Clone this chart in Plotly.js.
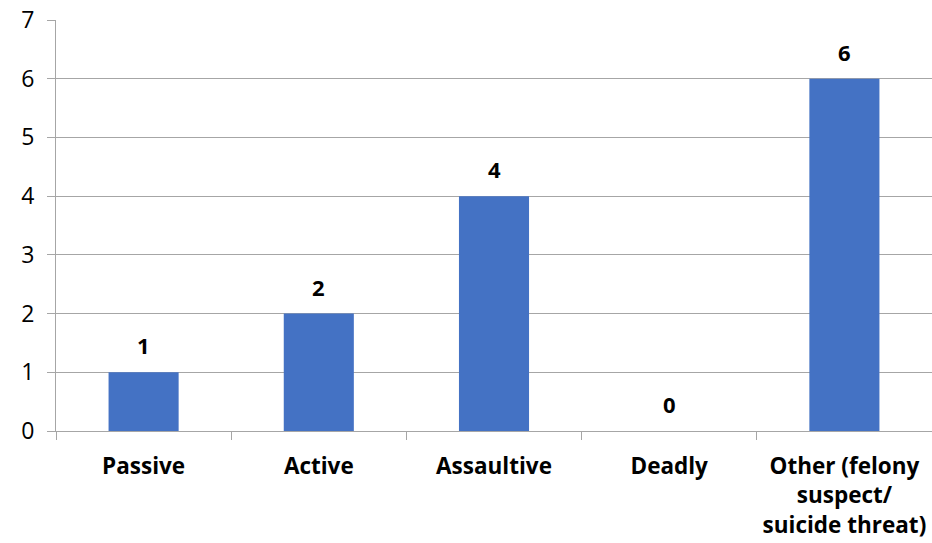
<!DOCTYPE html>
<html>
<head>
<meta charset="utf-8">
<script src="https://cdn.plot.ly/plotly-3.0.1.min.js"></script>
<style>html,body{margin:0;padding:0;background:#fff}#chart{width:932px;height:543px}</style>
</head>
<body>
<div id="chart"></div>
<script>
const categories = ["Passive", "Active", "Assaultive", "Deadly", "Other (felony<br>suspect/<br>suicide threat)"];
const counts = [1, 2, 4, 0, 6];
const yTicks = [0, 1, 2, 3, 4, 5, 6, 7];

const FONT = "'Open Sans', Lato, 'Liberation Sans', sans-serif";

const trace = {
  type: "bar",
  x: categories,
  y: counts,
  marker: {color: "#4472C4"},
  hoverinfo: "skip"
};

const annotations = categories.map((c, i) => ({
  x: c, y: counts[i], text: "<b>" + counts[i] + "</b>",
  showarrow: false, yshift: 27, xanchor: "center", yanchor: "middle",
  font: {family: FONT, size: 22, color: "#000"}
}));

const layout = {
  width: 932, height: 543,
  margin: {l: 56, r: 0, t: 20, b: 112},
  paper_bgcolor: "#fff", plot_bgcolor: "#fff",
  bargap: 0.6,
  showlegend: false,
  font: {family: FONT, color: "#000"},
  xaxis: {
    type: "category",
    tickson: "boundaries",
    tickangle: 0,
    ticks: "outside", ticklen: 8, tickcolor: "#A6A6A6", tickwidth: 1,
    showline: true, linecolor: "#A6A6A6", linewidth: 1,
    showgrid: false, zeroline: false,
    tickfont: {family: FONT, size: 22.5, color: "#000", weight: "bold"},
    ticklabelstandoff: 15
  },
  yaxis: {
    range: [0, 7],
    tickvals: yTicks,
    ticks: "outside", ticklen: 8, tickcolor: "#A6A6A6", tickwidth: 1,
    showline: true, linecolor: "#A6A6A6", linewidth: 1,
    showgrid: true, gridcolor: "#A6A6A6", gridwidth: 1,
    zeroline: false,
    tickfont: {family: FONT, size: 23, color: "#000"},
    ticklabelstandoff: 8
  },
  annotations: annotations
};

Plotly.newPlot("chart", [trace], layout, {displayModeBar: false, staticPlot: true});
</script>
</body>
</html>
